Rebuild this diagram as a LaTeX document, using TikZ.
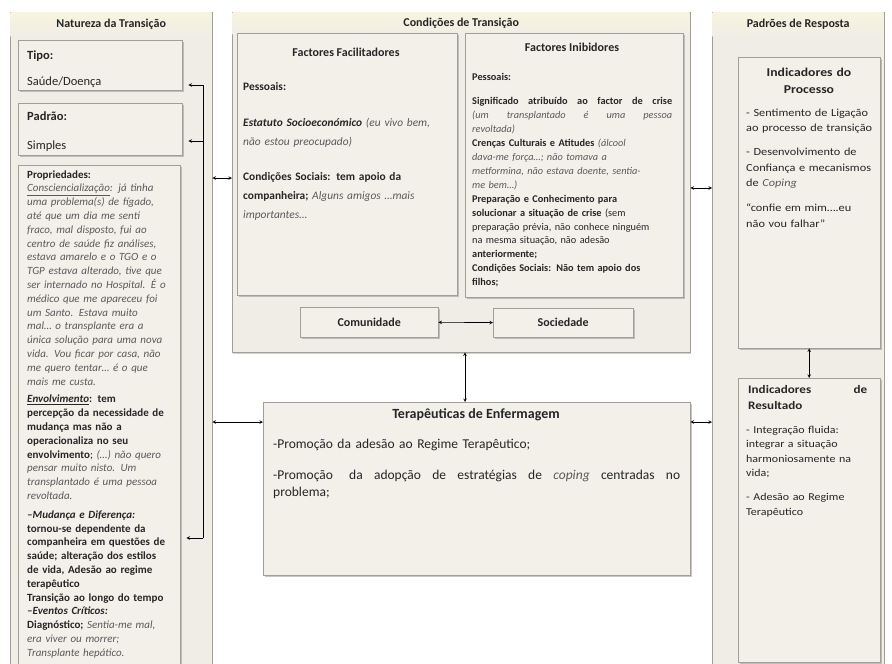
\documentclass[tikz,border=0pt]{standalone}
\usepackage{fontspec}
\setmainfont{Carlito}
\newfontfamily\largo[FakeStretch=1.14]{Carlito}
\usetikzlibrary{shadows}
\definecolor{boxbg}{HTML}{F3F0EA}
\definecolor{colbg}{HTML}{F0EDE6}
\definecolor{headbg}{HTML}{F7F4DE}
\definecolor{edge}{HTML}{A29F99}
\definecolor{ink}{HTML}{262626}
\definecolor{soft}{HTML}{5A5A5A}
\newcommand\fala[1]{{\itshape\color{soft}#1}}
\newcommand\linha[2]{\leavevmode\hbox to #1pt{\spaceskip=0.25em plus 1fil\relax #2}}
\begin{document}
\begin{tikzpicture}[x=1pt, y=-1pt, >=stealth, text=ink, font=\fontsize{11}{13.8}\selectfont,
	column/.style={draw=edge, fill=colbg, anchor=north west, inner sep=0pt, drop shadow={shadow xshift=1pt, shadow yshift=-1.5pt, fill=black!35}},
	box/.style={draw=edge, fill=boxbg, anchor=north west, inner sep=0pt, drop shadow={shadow xshift=1.5pt, shadow yshift=-2pt, fill=black!45}},
	head/.style={anchor=north west, inner sep=0pt, top color=headbg, bottom color=colbg, font=\fontsize{12}{14}\selectfont\bfseries},
	txt/.style={anchor=base west, inner sep=0pt, align=left},
	ttl/.style={anchor=base, inner sep=0pt, align=center, font=\fontsize{12}{17}\selectfont\bfseries},
	link/.style={<->, line width=0.6pt}]
	\useasboundingbox[fill=white] (0,0) rectangle (892,664);
	\node[column, minimum width=202, minimum height=660] (nat) at (10,12) {};
	\node[head, minimum width=201, minimum height=24] (nathd) at (10.5,12.5) {Natureza da Transição};
	\node[box, minimum width=164, minimum height=50] (tipo) at (18,40) {};
	\node[box, minimum width=164, minimum height=52] (padrao) at (18,103) {};
	\node[box, minimum width=162, minimum height=510] (props) at (18,165) {};
	\node[txt, text width=150, font=\fontsize{12.5}{26}\selectfont] (tipot) at (27,59) {\textbf{Tipo:}\\Saúde/Doença};
	\node[txt, text width=150, font=\fontsize{12.5}{29}\selectfont] (padraot) at (27,120) {\textbf{Padrão:}\\Simples};
	\node[txt, text width=160] (propst) at (27,178) {\textbf{Propriedades:}\\
		\fala{\underline{Consciencialização}: já tinha}\\
		\fala{uma problema(s) de fígado,}\\
		\fala{até que um dia me senti}\\
		\fala{fraco, mal disposto, fui ao}\\
		\fala{centro de saúde fiz análises,}\\
		\fala{estava amarelo e o TGO e o}\\
		\fala{TGP estava alterado, tive que}\\
		\fala{ser internado no Hospital. É o}\\
		\fala{médico que me apareceu foi}\\
		\fala{um Santo. Estava muito}\\
		\fala{mal… o transplante era a}\\
		\fala{única solução para uma nova}\\
		\fala{vida. Vou ficar por casa, não}\\
		\fala{me quero tentar… é o que}\\
		\fala{mais me custa.}\\[4pt]
		\textbf{\textit{\underline{Envolvimento}}: tem}\\
		\textbf{percepção da necessidade de}\\
		\textbf{mudança mas não a}\\
		\textbf{operacionaliza no seu}\\
		\textbf{envolvimento}; \fala{(…) não quero}\\
		\fala{pensar muito nisto. Um}\\
		\fala{transplantado é uma pessoa}\\
		\fala{revoltada.}\\[5pt]
		\textbf{\textit{–Mudança e Diferença:}}\\
		\textbf{tornou-se dependente da}\\
		\textbf{companheira em questões de}\\
		\textbf{saúde; alteração dos estilos}\\
		\textbf{de vida, Adesão ao regime}\\
		\textbf{terapêutico}\\
		\textbf{Transição ao longo do tempo}\\
		\textbf{\textit{–Eventos Críticos:}}\\
		\textbf{Diagnóstico;} \fala{Sentia-me mal,}\\
		\fala{era viver ou morrer;}\\
		\fala{Transplante hepático.}};
	\node[column, minimum width=458, minimum height=340] (cond) at (232,12) {};
	\node[head, minimum width=457, minimum height=22] (condhd) at (232.5,12.5) {Condições de Transição};
	\node[box, minimum width=220, minimum height=262] (facil) at (237,33) {};
	\node[box, minimum width=218, minimum height=264] (inib) at (465,33) {};
	\node[ttl] (facilt) at (346,56) {Factores Facilitadores};
	\node[ttl] (inibt) at (572,51) {Factores Inibidores};
	\node[txt, text width=210, font=\fontsize{11.4}{19}\selectfont] (facilx) at (243,90) {\textbf{Pessoais:}\\[17pt]
		\textbf{\textit{Estatuto Socioeconómico}} \fala{(eu vivo bem,}\\
		\fala{não estou preocupado)}\\[16pt]
		\textbf{Condições Sociais: tem apoio da}\\
		\textbf{companheira;} \fala{Alguns amigos …mais}\\
		\fala{importantes…}};
	\node[txt, text width=205, font=\fontsize{10.3}{13.9}\selectfont] (inibx) at (472,80) {\textbf{Pessoais:}\\[11pt]
		\textbf{\linha{200}{Significado atribuído ao factor de crise}}\\
		\fala{\linha{200}{(um transplantado é uma pessoa}}\\
		\fala{revoltada)}\\
		\textbf{Crenças Culturais e Atitudes} \fala{(álcool}\\
		\fala{dava-me força…; não tomava a}\\
		\fala{metformina, não estava doente, sentia-}\\
		\fala{me bem…)}\\
		\textbf{Preparação e Conhecimento para}\\
		\textbf{solucionar a situação de crise} (sem\\
		preparação prévia, não conhece ninguém\\
		na mesma situação, não adesão\\
		\textbf{anteriormente;}\\
		\textbf{Condições Sociais: Não tem apoio dos}\\
		\textbf{filhos;}};
	\node[box, minimum width=138, minimum height=30, font=\fontsize{12}{14}\selectfont\bfseries] (com) at (300,307) {Comunidade};
	\node[box, minimum width=140, minimum height=29, font=\fontsize{12}{14}\selectfont\bfseries] (soc) at (493,308) {Sociedade};
	\node[box, minimum width=427, minimum height=173] (tera) at (263,402) {};
	\node[ttl, font=\fontsize{14}{17}\selectfont\bfseries] (terat) at (476,418) {Terapêuticas de Enfermagem};
	\node[txt, text width=410, font=\fontsize{13.5}{17}\selectfont] (terax) at (273,448) {-Promoção da adesão ao Regime Terapêutico;\\[14pt]
		\linha{407}{-Promoção\hspace{1.2em}da adopção de estratégias de \fala{coping} centradas no}\\
		problema;};
	\node[column, minimum width=172, minimum height=660] (padr) at (712,12) {};
	\node[head, minimum width=171, minimum height=24] (padrhd) at (712.5,12.5) {Padrões de Resposta};
	\node[box, minimum width=142, minimum height=291] (proc) at (738,57) {};
	\node[box, minimum width=142, minimum height=284] (res) at (738,378) {};
	\node[ttl, text width=140, font=\largo\fontsize{12}{17}\selectfont\bfseries] (proct) at (809,76) {Indicadores do\\Processo};
	\node[txt, text width=135, font=\largo\fontsize{10.8}{15.5}\selectfont] (procx) at (746,116) {- Sentimento de Ligação\\
		ao processo de transição\\[8.5pt]
		- Desenvolvimento de\\
		Confiança e mecanismos\\
		de \fala{Coping}\\[9.5pt]
		“confie em mim….eu\\
		não vou falhar”};
	\node[txt, text width=135, font=\largo\fontsize{11.5}{16}\selectfont\bfseries] (rest) at (748,393) {\linha{119}{Indicadores de}\\Resultado};
	\node[txt, text width=135, font=\largo\fontsize{10.5}{14.5}\selectfont] (resx) at (746,433) {- Integração fluida:\\
		integrar a situação\\
		harmoniosamente na\\
		vida;\\[9.5pt]
		- Adesão ao Regime\\
		Terapêutico};
	\coordinate (b1) at (203,85);
	\coordinate (b2) at (203,141);
	\coordinate (b3) at (203,538);
	\coordinate (y1) at (0,178);
	\coordinate (y2) at (0,188);
	\coordinate (y3) at (0,422);
	\coordinate (x1) at (465,0);
	\draw[line width=0.6pt] (b1) -- (b3);
	\draw[->, line width=0.6pt, shorten >=6pt] (b1) -- (b1 -| tipo.east);
	\draw[->, line width=0.6pt, shorten >=6pt] (b2) -- (b2 -| padrao.east);
	\draw[->, line width=0.6pt, shorten >=6pt] (b3) -- (b3 -| props.east);
	\draw[link] (nat.east |- y1) -- (cond.west |- y1);
	\draw[link] (cond.east |- y2) -- (padr.west |- y2);
	\draw[link] (nat.east |- y3) -- (tera.west |- y3);
	\draw[link] (tera.east |- y3) -- (padr.west |- y3);
	\draw[link] (cond.south -| x1) -- (tera.north -| x1);
	\draw[link] (com) -- (soc);
	\draw[link] (proc) -- (res);
\end{tikzpicture}
\end{document}
